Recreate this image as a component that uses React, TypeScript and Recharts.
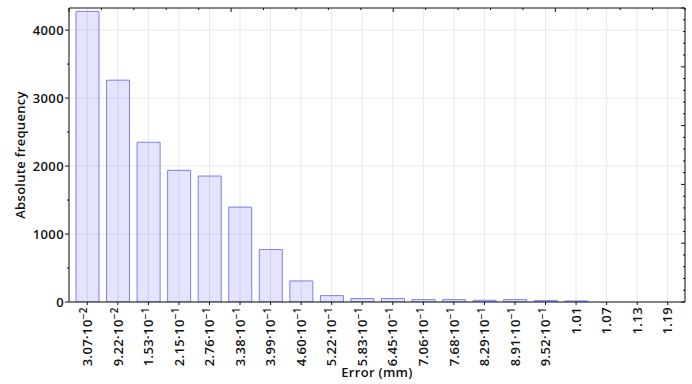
import { BarChart, Bar, XAxis, YAxis, CartesianGrid } from 'recharts';

const categories = [
  '3.07·10^-2', '9.22·10^-2', '1.53·10^-1', '2.15·10^-1', '2.76·10^-1',
  '3.38·10^-1', '3.99·10^-1', '4.60·10^-1', '5.22·10^-1', '5.83·10^-1',
  '6.45·10^-1', '7.06·10^-1', '7.68·10^-1', '8.29·10^-1', '8.91·10^-1',
  '9.52·10^-1', '1.01', '1.07', '1.13', '1.19',
];
const counts = [
  4275, 3263, 2349, 1937, 1853, 1396, 772, 310, 94, 50,
  50, 35, 35, 25, 35, 20, 15, 0, 0, 0,
];
const yTicks = [0, 500, 1000, 1500, 2000, 2500, 3000, 3500, 4000];
const yGrid = [0, 1000, 2000, 3000, 4000];
const frameTicks = Array.from({ length: 26 }, (_, i) => i);

const FONT = '"Open Sans", sans-serif';
const INK = '#111';

const data = categories.map((c, i) => ({ bin: c, count: counts[i] }));

function LeftTick({ x, y, payload }: any) {
  const major = payload.value % 1000 === 0;
  return (
    <g>
      <line x1={x - (major ? 4 : 2)} x2={x} y1={y} y2={y} stroke={INK} />
      {major && (
        <text
          x={x - 5} y={y} dy="0.36em" textAnchor="end"
          fontFamily={FONT} fontSize={13} fontWeight={600} letterSpacing={0.4} fill={INK}
        >
          {payload.value}
        </text>
      )}
    </g>
  );
}

function BottomTick({ x, y, payload }: any) {
  const [mant, exp] = String(payload.value).split('^');
  return (
    <g>
      <line x1={x} x2={x} y1={y} y2={y + 3} stroke={INK} />
      <g transform={`translate(${x},${y + 5}) rotate(-90)`}>
        <text
          x={0} y={0} dy="0.36em" textAnchor="end"
          fontFamily={FONT} fontSize={13} fontWeight={600} letterSpacing={0.4} fill={INK}
        >
          {mant}
          {exp && (
            <tspan dy="-0.45em" fontSize={10}>
              {exp.replace('-', '\u2212')}
            </tspan>
          )}
        </text>
      </g>
    </g>
  );
}

function TopTick({ x, y, payload }: any) {
  const len = payload.value % 5 === 0 ? 4 : 2;
  return <line x1={x} x2={x} y1={y} y2={y + len} stroke={INK} />;
}

function RightTick({ x, y, payload }: any) {
  const len = payload.value % 5 === 0 ? 4 : 2;
  return <line x1={x} x2={x - len} y1={y} y2={y} stroke={INK} />;
}

export default function App() {
  return (
    <div style={{ position: 'absolute', left: 0, top: 0, width: 692, height: 384, background: '#fff' }}>
      <BarChart
        width={692}
        height={384}
        data={data}
        margin={{ top: 7, right: 6, bottom: 0, left: 0 }}
        barSize={23}
      >
        <CartesianGrid stroke="#e8e8e8" horizontalValues={yGrid} />
        <XAxis
          dataKey="bin"
          height={82}
          padding={{ left: 3, right: 2 }}
          interval={0}
          tickSize={0}
          tickMargin={0}
          tick={<BottomTick />}
          axisLine={{ stroke: INK }}
          label={{
            value: 'Error (mm)',
            position: 'insideBottom',
            offset: 7,
            fontFamily: FONT,
            fontSize: 13,
            fontWeight: 600,
            letterSpacing: 0.3,
            fill: INK,
          }}
        />
        <XAxis
          xAxisId="top"
          orientation="top"
          type="number"
          domain={[0, 25]}
          allowDataOverflow
          ticks={frameTicks}
          interval={0}
          height={1}
          tickSize={0}
          tickMargin={0}
          tick={<TopTick />}
          axisLine={{ stroke: INK }}
        />
        <YAxis
          width={69}
          domain={[0, 4325]}
          allowDataOverflow
          ticks={yTicks}
          interval={0}
          tickSize={0}
          tickMargin={0}
          tick={<LeftTick />}
          axisLine={{ stroke: INK }}
          label={{
            value: 'Absolute frequency',
            angle: -90,
            position: 'insideLeft',
            offset: 20,
            style: { textAnchor: 'middle' },
            fontFamily: FONT,
            fontSize: 13,
            fontWeight: 600,
            letterSpacing: 0.3,
            fill: INK,
          }}
        />
        <YAxis
          yAxisId="right"
          orientation="right"
          width={1}
          type="number"
          domain={[0, 25]}
          allowDataOverflow
          ticks={frameTicks}
          interval={0}
          tickSize={0}
          tickMargin={0}
          tick={<RightTick />}
          axisLine={{ stroke: INK }}
        />
        <Bar
          dataKey="count"
          fill="#0000ff"
          fillOpacity={0.105}
          stroke="#7d7df7"
          strokeWidth={1}
          isAnimationActive={false}
        />
      </BarChart>
    </div>
  );
}
